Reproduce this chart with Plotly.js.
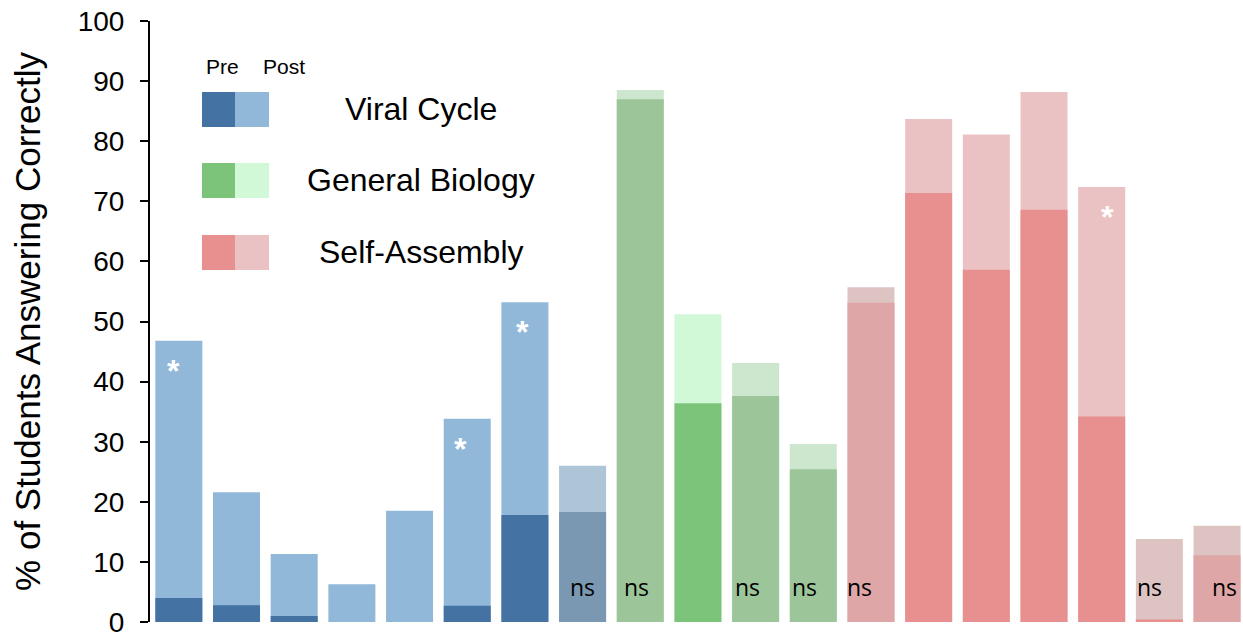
<!DOCTYPE html>
<html><head><meta charset="utf-8">
<script src="https://cdn.plot.ly/plotly-3.0.1.min.js"></script>
<style>html,body{margin:0;padding:0;background:#fff;}#chart{width:1243px;height:636px;}</style>
</head><body><div id="chart"></div>
<script>
// ---- data ----
const categories = ['VC1','VC2','VC3','VC4','VC5','VC6','VC7','VC8','GB1','GB2','GB3','GB4','SA1','SA2','SA3','SA4','SA5','SA6','SA7'];
const groups     = ['viral','viral','viral','viral','viral','viral','viral','viral','bio','bio','bio','bio','self','self','self','self','self','self','self'];
const preValues  = [4.0, 2.8, 1.0, 0, 0, 2.7, 17.8, 18.3, 87.0, 36.4, 37.6, 25.4, 53.1, 71.4, 58.6, 68.6, 34.2, 0.4, 11.1];
const postValues = [46.8, 21.6, 11.3, 6.3, 18.5, 33.8, 53.2, 26.0, 88.5, 51.2, 43.1, 29.6, 55.7, 83.7, 81.1, 88.2, 72.4, 13.8, 16.0];
const notSignificant = [false,false,false,false,false,false,false,true,true,false,true,true,true,false,false,false,false,true,true];
const significant    = [true,false,false,false,false,true,true,false,false,false,false,false,false,false,false,false,true,false,false];
const legendLabels = ['Viral Cycle','General Biology','Self-Assembly'];
const legendGroups = ['viral','bio','self'];

// ---- styles ----
const colors = {
  viral: {pre:'#4472a2', post:'#91b8d8', preNS:'#7b98b3', postNS:'#adc5d7'},
  bio:   {pre:'#7dc47b', post:'#d2f9d7', preNS:'#9cc59a', postNS:'#cde6ce'},
  self:  {pre:'#e8908f', post:'#ebc2c3', preNS:'#dea6a6', postNS:'#dec3c3'}
};
const preColors  = categories.map((c,i)=> (notSignificant[i] && !(i===17)) ? colors[groups[i]].preNS : colors[groups[i]].pre);
const postColors = categories.map((c,i)=> notSignificant[i] ? colors[groups[i]].postNS : colors[groups[i]].post);
const nsShift = [0,0,0,0,0,0,0,0,-4,0,-8,-9,-11,0,0,0,0,-10,7];
const starShift = [-5,0,0,0,0,-7,-2,0,0,0,0,0,0,0,0,0,6,0,0];
const FONT = 'Liberation Sans, Arial, Helvetica, sans-serif';

const traces = [
  {type:'bar', x:categories, y:postValues, name:'Post', marker:{color:postColors, line:{width:0}}, hoverinfo:'skip'},
  {type:'bar', x:categories, y:preValues,  name:'Pre',  marker:{color:preColors,  line:{width:0}}, hoverinfo:'skip'}
];

const annotations = [];
categories.forEach((c,i)=>{
  if (notSignificant[i]) annotations.push({x:c, y:5.8, xref:'x', yref:'y', text:'ns', showarrow:false,
    xshift:nsShift[i], font:{family:'Open Sans, Liberation Sans, sans-serif', size:23, color:'#000'}});
  if (significant[i]) annotations.push({x:c, y:postValues[i], xref:'x', yref:'y', text:'<b>*</b>', showarrow:false,
    yanchor:'top', yshift:-10, xshift:starShift[i], font:{family:FONT, size:32, color:'#fff'}});
});

// custom legend (paper coords)
const W = 1243-150, H = 636-21-14;
const px = x => (x-150)/W;
const py = y => (636-14-y)/H;
const shapes = [];
const rowTops = [92,163,235];
legendGroups.forEach((g,k)=>{
  const t = rowTops[k], b = t+35;
  shapes.push({type:'rect', xref:'paper', yref:'paper', x0:px(202), x1:px(235), y0:py(b), y1:py(t), fillcolor:colors[g].pre, line:{width:0}, layer:'above'});
  shapes.push({type:'rect', xref:'paper', yref:'paper', x0:px(235), x1:px(269), y0:py(b), y1:py(t), fillcolor:colors[g].post, line:{width:0}, layer:'above'});
  annotations.push({xref:'paper', yref:'paper', x:px(421), y:py(t+17), text:legendLabels[k],
    showarrow:false, xanchor:'center', yanchor:'middle', font:{family:FONT, size:32, color:'#000'}});
});
annotations.push({xref:'paper', yref:'paper', x:px(222), y:py(66), text:'Pre', showarrow:false, xanchor:'center', yanchor:'middle', font:{family:FONT, size:21, color:'#000'}});
annotations.push({xref:'paper', yref:'paper', x:px(284), y:py(66), text:'Post', showarrow:false, xanchor:'center', yanchor:'middle', font:{family:FONT, size:21, color:'#000'}});

const layout = {
  width:1243, height:636,
  margin:{l:150, r:0, t:21, b:14, pad:0},
  paper_bgcolor:'#fff', plot_bgcolor:'#fff',
  barmode:'overlay', bargap:0.185, showlegend:false,
  xaxis:{type:'category', range:[-0.5,18.45], showticklabels:false, ticks:'', showline:false, showgrid:false, zeroline:false, fixedrange:true},
  yaxis:{range:[0,100], tickvals:[0,10,20,30,40,50,60,70,80,90,100], ticks:'outside', ticklen:8, tickwidth:2, tickcolor:'#000',
    ticklabelstandoff:10, ticklabeloverflow:'allow',
    showline:true, linewidth:2, linecolor:'#000', showgrid:false, zeroline:false,
    tickfont:{family:FONT, size:28, color:'#000'},
    title:{text:'% of Students Answering Correctly', standoff:26, font:{family:FONT, size:35, color:'#000'}}},
  annotations:annotations, shapes:shapes
};
Plotly.newPlot('chart', traces, layout, {displayModeBar:false, staticPlot:true});
</script></body></html>
